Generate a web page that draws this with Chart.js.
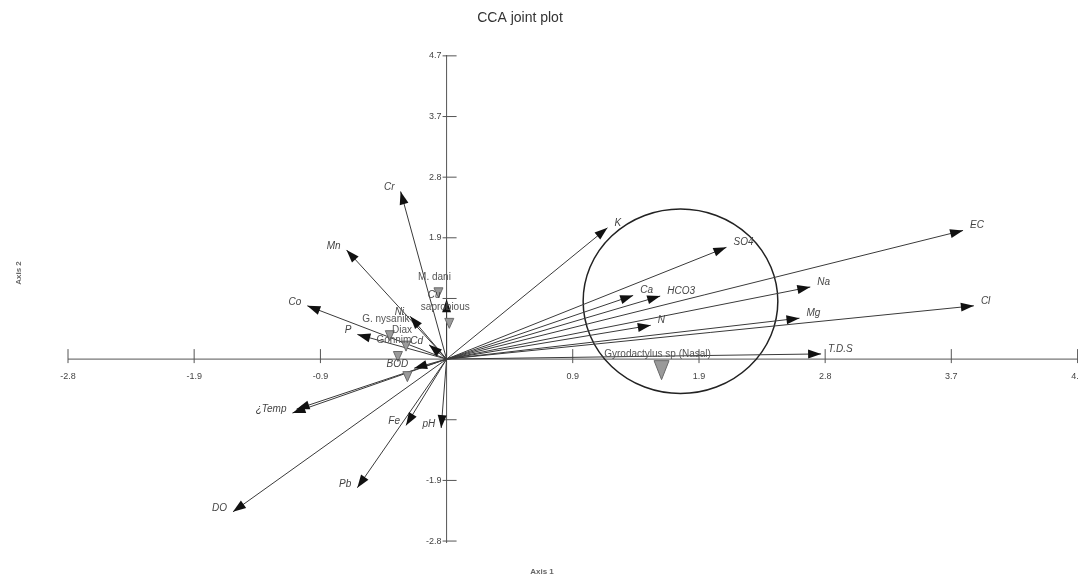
<!DOCTYPE html>
<html>
<head>
<meta charset="utf-8">
<script src="https://cdn.jsdelivr.net/npm/chart.js@4.4.1/dist/chart.umd.min.js"></script>
<style>
  html, body { margin: 0; padding: 0; background: #fff; overflow: hidden; }
  #wrap { width: 1078px; height: 578px; position: relative; }
</style>
</head>
<body>
<div id="wrap"><canvas id="cca"></canvas></div>
<script>
// environmental variables (arrows from origin)
var envLabels = ['K', 'SO4', 'EC', 'Na', 'Cl', 'Mg', 'Ca', 'HCO3', 'N', 'T.D.S',
  'Cr', 'Mn', 'Co', 'P', 'Ni', 'Cu', 'Cd', 'BOD', '¿Temp', '', 'DO', 'Pb', 'Fe', 'pH'];
var envX = [1.19, 2.07, 3.82, 2.69, 3.90, 2.61, 1.38, 1.58, 1.51, 2.77,
  -0.34, -0.74, -1.03, -0.66, -0.27, 0.0, -0.13, -0.24, -1.14, -1.11, -1.58, -0.66, -0.30, -0.04];
var envY = [2.02, 1.72, 1.98, 1.11, 0.82, 0.63, 0.98, 0.97, 0.52, 0.08,
  2.58, 1.68, 0.82, 0.38, 0.66, 0.92, 0.22, -0.14, -0.83, -0.77, -2.35, -1.98, -1.02, -1.06];

// species (triangles)
var spLabels = ['Gyrodactylus sp (Nasal)', 'M. dani', 'saprobious', 'G. nysanik', 'Diax', 'Gonnim', ''];
var spX = [1.59, -0.06, 0.02, -0.42, -0.30, -0.36, -0.29];
var spY = [-0.17, 1.02, 0.55, 0.36, 0.20, 0.04, -0.27];

// axis ticks
var xTickVals = [-2.8, -1.867, -0.933, 0.933, 1.867, 2.8, 3.733, 4.667];
var xTickLabels = ['-2.8', '-1.9', '-0.9', '0.9', '1.9', '2.8', '3.7', '4.7'];
var yTickVals = [-2.8, -1.867, -0.933, 0.933, 1.867, 2.8, 3.733, 4.667];
var yTickLabels = ['-2.8', '-1.9', '', '', '1.9', '2.8', '3.7', '4.7'];

// encircled group
var ringX = [1.73];
var ringY = [0.89];
var ringRX = [0.72];
var ringRY = [1.42];

var FONT = '"Liberation Sans", Arial, sans-serif';

function px(chart, x, y) {
  return [chart.scales.x.getPixelForValue(x), chart.scales.y.getPixelForValue(y)];
}

function downTriangle(ctx, x, y, w, h) {
  ctx.beginPath();
  ctx.moveTo(x - w / 2, y - h / 2);
  ctx.lineTo(x + w / 2, y - h / 2);
  ctx.lineTo(x, y + h / 2);
  ctx.closePath();
  ctx.fill();
  ctx.stroke();
}

var jointPlot = {
  id: 'jointPlot',
  beforeDatasetsDraw: function (chart) {
    var ctx = chart.ctx;
    var xs = chart.scales.x, ys = chart.scales.y;
    var o = px(chart, 0, 0);
    ctx.save();
    ctx.strokeStyle = '#555';
    ctx.lineWidth = 1;
    // axes
    ctx.beginPath();
    ctx.moveTo(xs.getPixelForValue(-2.8), o[1]);
    ctx.lineTo(chart.width, o[1]);
    ctx.moveTo(o[0], ys.top);
    ctx.lineTo(o[0], ys.bottom);
    ctx.stroke();
    ctx.fillStyle = '#444';
    ctx.font = '9px ' + FONT;
    // x ticks
    ctx.textAlign = 'center';
    ctx.textBaseline = 'middle';
    xTickVals.forEach(function (v, i) {
      var p = xs.getPixelForValue(v);
      ctx.beginPath();
      ctx.moveTo(p, o[1] - 10);
      ctx.lineTo(p, o[1] + 4);
      ctx.stroke();
      ctx.fillText(xTickLabels[i], p, o[1] + 17);
    });
    // y ticks
    ctx.textAlign = 'right';
    yTickVals.forEach(function (v, i) {
      var p = ys.getPixelForValue(v);
      ctx.beginPath();
      ctx.moveTo(o[0] - 4, p);
      ctx.lineTo(o[0] + 10, p);
      ctx.stroke();
      if (yTickLabels[i]) ctx.fillText(yTickLabels[i], o[0] - 5, p);
    });
    // ring
    ctx.strokeStyle = '#222';
    ctx.lineWidth = 1.5;
    ringX.forEach(function (cx, i) {
      var c = px(chart, cx, ringY[i]);
      var rx = xs.getPixelForValue(cx + ringRX[i]) - c[0];
      var ry = c[1] - ys.getPixelForValue(ringY[i] + ringRY[i]);
      ctx.beginPath();
      ctx.ellipse(c[0], c[1], rx, ry, 0, 0, Math.PI * 2);
      ctx.stroke();
    });
    // titles
    ctx.fillStyle = '#333';
    ctx.textAlign = 'center';
    ctx.font = '14px ' + FONT;
    ctx.fillText('CCA joint plot', 520, 18);
    ctx.font = 'bold 8px ' + FONT;
    ctx.fillStyle = '#666';
    ctx.fillText('Axis 1', 542, 572);
    ctx.translate(19, 273);
    ctx.rotate(-Math.PI / 2);
    ctx.fillText('Axis 2', 0, 0);
    ctx.restore();
  },
  afterDatasetsDraw: function (chart) {
    var ctx = chart.ctx;
    var o = px(chart, 0, 0);
    ctx.save();
    // species triangles (drawn from the scatter dataset's points)
    var meta = chart.getDatasetMeta(chart.data.datasets.length - 1);
    ctx.fillStyle = '#9a9a9a';
    ctx.strokeStyle = '#6a6a6a';
    ctx.lineWidth = 1;
    meta.data.forEach(function (pt, i) {
      if (i === 0) downTriangle(ctx, pt.x, pt.y, 15, 19);
      else downTriangle(ctx, pt.x, pt.y, 9, 10);
    });
    // arrow heads + labels
    envX.forEach(function (x, i) {
      var t = px(chart, x, envY[i]);
      var a = Math.atan2(t[1] - o[1], t[0] - o[0]);
      var L = 13, W = 4.5;
      var bx = t[0] - L * Math.cos(a), by = t[1] - L * Math.sin(a);
      ctx.fillStyle = '#111';
      ctx.beginPath();
      ctx.moveTo(t[0], t[1]);
      ctx.lineTo(bx - W * Math.sin(a), by + W * Math.cos(a));
      ctx.lineTo(bx + W * Math.sin(a), by - W * Math.cos(a));
      ctx.closePath();
      ctx.fill();
      if (!envLabels[i]) return;
      ctx.fillStyle = '#444';
      ctx.font = 'italic 10px ' + FONT;
      ctx.textBaseline = 'middle';
      if (x > 0.01) {
        ctx.textAlign = 'left';
        ctx.fillText(envLabels[i], t[0] + 7, t[1] - 5);
      } else {
        ctx.textAlign = 'right';
        ctx.fillText(envLabels[i], t[0] - 6, t[1] - 4);
      }
    });
    // species labels
    ctx.fillStyle = '#555';
    ctx.font = '10px ' + FONT;
    ctx.textAlign = 'center';
    ctx.textBaseline = 'middle';
    spX.forEach(function (x, i) {
      if (!spLabels[i]) return;
      var p = px(chart, x, spY[i]);
      ctx.fillText(spLabels[i], p[0] - 4, p[1] - 16);
    });
    ctx.restore();
  }
};

var datasets = envX.map(function (x, i) {
  return {
    type: 'line',
    data: [{ x: 0, y: 0 }, { x: x, y: envY[i] }],
    borderColor: '#3a3a3a',
    borderWidth: 1,
    pointRadius: 0,
    fill: false
  };
});
datasets.push({
  type: 'scatter',
  data: spX.map(function (x, i) { return { x: x, y: spY[i] }; }),
  pointRadius: 0
});

new Chart(document.getElementById('cca'), {
  type: 'scatter',
  data: { datasets: datasets },
  options: {
    responsive: true,
    maintainAspectRatio: false,
    animation: false,
    layout: { autoPadding: false, padding: { left: 68, right: 0, top: 55, bottom: 35 } },
    plugins: { legend: { display: false }, tooltip: { enabled: false }, title: { display: false } },
    scales: {
      x: { type: 'linear', min: -2.8, max: 4.67, display: false },
      y: { type: 'linear', min: -2.83, max: 4.68, display: false }
    }
  },
  plugins: [jointPlot]
});
</script>
</body>
</html>
